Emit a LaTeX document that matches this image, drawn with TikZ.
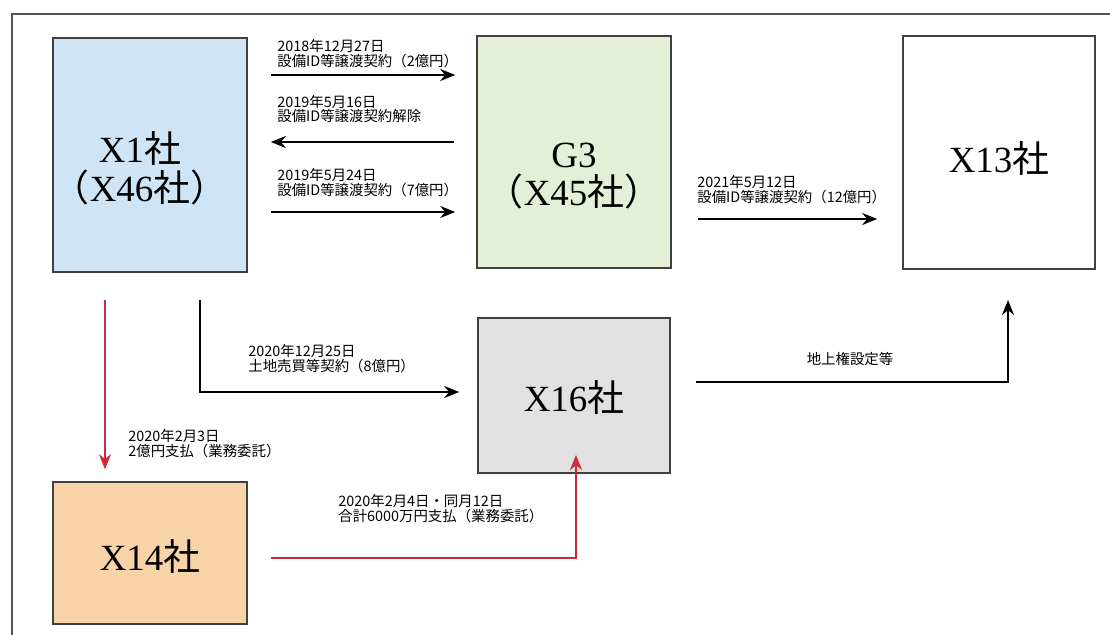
\documentclass[tikz,border=0pt]{standalone}
\usepackage{fontspec}
\setmainfont{Noto Sans CJK JP}
\newfontfamily\lserif{Liberation Serif}
\usetikzlibrary{arrows.meta}

\definecolor{boxblue}{HTML}{CFE5F5}
\definecolor{boxgreen}{HTML}{E3EFD6}
\definecolor{boxgray}{HTML}{E1E1E1}
\definecolor{boxpeach}{HTML}{F8D3A7}
\definecolor{payred}{HTML}{D02A38}
\definecolor{framegray}{HTML}{555555}

\tikzset{
  corp/.style={draw=black!75,line width=0.9pt,inner sep=0pt},
  corplbl/.style={font=\fontsize{21}{22}\selectfont,align=center},
  flow/.style={-{Stealth[length=3mm,width=2.4mm]},line width=1.6pt},
  pay/.style={flow,draw=payred},
  note/.style={font=\fontsize{8.2}{8.2}\selectfont,align=left,inner sep=0pt},
}

\begin{document}
\begin{tikzpicture}[x=0.2mm,y=-0.2mm,line cap=butt]
\useasboundingbox (0,0) rectangle (1110,635);
% outer frame
\draw[framegray,line width=1.1pt] (12,640) -- (12,14) -- (1115,14);

% companies
\node[corp,fill=boxblue,minimum width=38.8mm,minimum height=46.8mm] (x1) at (150,155) {};
\node[corp,fill=boxgreen,minimum width=38.8mm,minimum height=46.4mm] (g3) at (574,152) {};
\node[corp,fill=white,minimum width=38.4mm,minimum height=46.6mm] (x13) at (999,152.5) {};
\node[corp,fill=boxgray,minimum width=38.4mm,minimum height=31mm] (x16) at (574,395.5) {};
\node[corp,fill=boxpeach,minimum width=38.8mm,minimum height=28.4mm] (x14) at (150,553) {};

\node[corplbl] (x1lbl) at (140,168) {{\lserif X1}社\\（{\lserif X46}社）};
\node[corplbl] (g3lbl) at (574,176) {{\lserif G3}\\（{\lserif X45}社）};
\node[corplbl] (x13lbl) at (999,158) {{\lserif X13}社};
\node[corplbl] (x16lbl) at (574,397) {{\lserif X16}社};
\node[corplbl] (x14lbl) at (150,556) {{\lserif X14}社};

% transfers X1 <-> G3 -> X13
\draw[flow,shorten <=4.6mm,shorten >=4.2mm] (x1.east |- 0,75) -- (g3.west |- 0,75);
\draw[flow,shorten <=4.4mm,shorten >=4.6mm] (g3.west |- 0,142) -- (x1.east |- 0,142);
\draw[flow,shorten <=4.6mm,shorten >=4.2mm] (x1.east |- 0,212) -- (g3.west |- 0,212);
\draw[flow,shorten <=5.2mm,shorten >=5mm] (g3.east |- 0,219) -- (x13.west |- 0,219);

\node[note,anchor=south west] (t1) at (277,68) {2018年12月27日\\設備ID等譲渡契約（2億円）};
\node[note,anchor=south west] (t2) at (277,123) {2019年5月16日\\設備ID等譲渡契約解除};
\node[note,anchor=south west] (t3) at (277,197) {2019年5月24日\\設備ID等譲渡契約（7億円）};
\node[note,anchor=south west] (t4) at (697,204) {2021年5月12日\\設備ID等譲渡契約（12億円）};

% land sale and surface rights
\draw[flow] (200,300) |- ([xshift=-3.6mm,yshift=0.7mm]x16.west);
\draw[flow] ([xshift=5mm,yshift=2.7mm]x16.east) -| (1008,300);
\node[note,anchor=south west] (t5) at (248,373) {2020年12月25日\\土地売買等契約（8億円）};
\node[note,anchor=south] (t6) at (850,366) {地上権設定等};

% payments
\draw[pay] (105,300) -- ([yshift=2.4mm]x14.north -| 105,0);
\draw[pay] ([xshift=4.6mm,yshift=-1mm]x14.east) -| (576,455);
\node[note,anchor=south west] (t7) at (128,458) {2020年2月3日\\2億円支払（業務委託）};
\node[note,anchor=south west] (t8) at (338,523) {2020年2月4日・同月12日\\合計6000万円支払（業務委託）};
\end{tikzpicture}
\end{document}
